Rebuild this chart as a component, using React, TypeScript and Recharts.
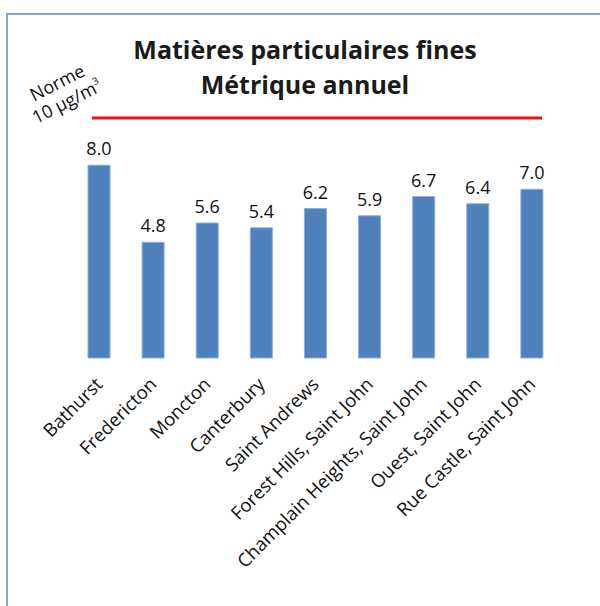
import React from 'react';
import { BarChart, Bar, XAxis, YAxis, ReferenceLine, LabelList } from 'recharts';

const stations = [
  'Bathurst',
  'Fredericton',
  'Moncton',
  'Canterbury',
  'Saint Andrews',
  'Forest Hills, Saint John',
  'Champlain Heights, Saint John',
  'Ouest, Saint John',
  'Rue Castle, Saint John',
];
const values = [8.0, 4.8, 5.6, 5.4, 6.2, 5.9, 6.7, 6.4, 7.0];
const normValue = 10;
const titleLines = ['Matières particulaires fines', 'Métrique annuel'];

const data = stations.map((s, i) => ({ station: s, value: values[i] }));

const FONT = '"Open Sans", "Noto Sans", sans-serif';

const Tick = (props: any) => {
  const { x, y, payload } = props;
  return (
    <g transform={`translate(${x},${y})`}>
      <text
        transform="rotate(-45)"
        textAnchor="end"
        dy="0.35em"
        fontSize={18.5}
        fontFamily={FONT}
        fill="#111"
      >
        {payload.value}
      </text>
    </g>
  );
};

const NormLine = (props: any) => {
  const { x1, x2, y1 } = props;
  return <line x1={x1 + 20} x2={x2 - 17} y1={y1 + 1} y2={y1 + 1} stroke="#ee1111" strokeWidth={3} />;
};

export default function App() {
  return (
    <div style={{ position: 'absolute', left: 0, top: 0, width: 600, height: 606, background: '#fff', overflow: 'hidden' }}>
      <div
        style={{
          position: 'absolute',
          left: 6,
          top: 13,
          width: 640,
          height: 640,
          border: '2px solid #84a5d4',
          boxSizing: 'border-box',
        }}
      />
      <div
        style={{
          position: 'absolute',
          left: 105,
          width: 400,
          top: 32,
          textAlign: 'center',
          fontFamily: FONT,
          fontWeight: 700,
          fontSize: 25,
          lineHeight: '35px',
          color: '#1a1a1a',
          whiteSpace: 'nowrap',
        }}
      >
        {titleLines.map((t) => (
          <div key={t}>{t}</div>
        ))}
      </div>
      <div
        style={{
          position: 'absolute',
          left: 12,
          top: 71,
          width: 100,
          textAlign: 'center',
          fontFamily: FONT,
          fontSize: 18,
          lineHeight: '21px',
          color: '#111',
          transform: 'rotate(-27deg)',
          whiteSpace: 'nowrap',
        }}
      >
        <div>Norme</div>
        <div>
          {normValue} µg/m<sup style={{ fontSize: 10, verticalAlign: 'top', lineHeight: '10px' }}>3</sup>
        </div>
      </div>
      <div style={{ position: 'absolute', left: 0, top: 0 }}>
        <BarChart
          width={600}
          height={606}
          data={data}
          margin={{ top: 117, right: 41, bottom: 48, left: 72 }}
          barSize={22}
        >
          <XAxis
            dataKey="station"
            interval={0}
            height={200}
            axisLine={false}
            tickLine={false}
            tick={<Tick />}
            tickMargin={17}
          />
          <YAxis hide domain={[0, normValue]} type="number" />
          <ReferenceLine y={normValue} shape={<NormLine />} ifOverflow="visible" />
          <Bar dataKey="value" fill="#4f81bd" stroke="#8eaddb" strokeWidth={1} isAnimationActive={false}>
            <LabelList
              dataKey="value"
              position="top"
              offset={10}
              formatter={(v: any) => Number(v).toFixed(1)}
              style={{ fontSize: 18, fontFamily: FONT, fill: '#111' }}
            />
          </Bar>
        </BarChart>
      </div>
    </div>
  );
}
